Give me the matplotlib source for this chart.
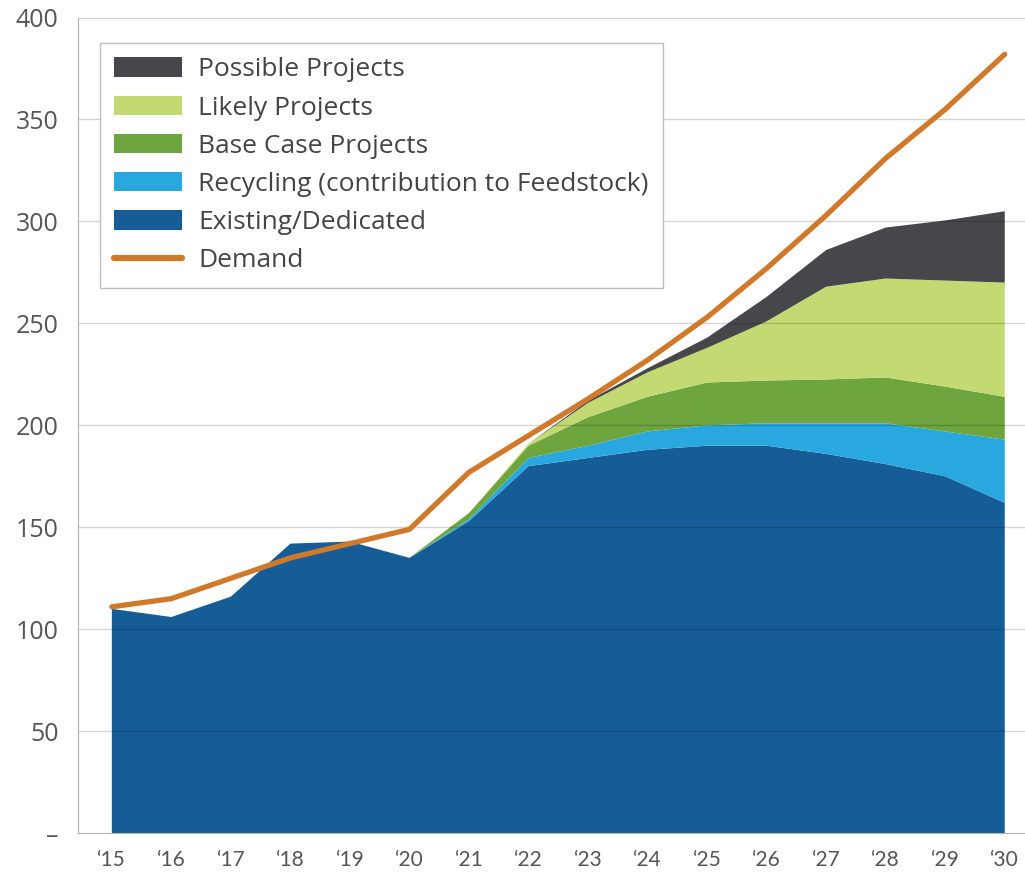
import matplotlib.pyplot as plt
import numpy as np
from matplotlib.patches import Patch
from matplotlib.lines import Line2D

plt.rcParams['font.family'] = ['Lato', 'DejaVu Sans']

years = np.arange(15, 31)
year_labels = ['\u2018%d' % y for y in years]

existing = [110, 106, 116, 142, 143, 135, 153, 180, 184, 188, 190, 190, 186, 181, 175, 162]
recycling = [0, 0, 0, 0, 0, 0, 1, 4, 6, 9, 10, 11, 15, 20, 22, 31]
base_case = [0, 0, 0, 0, 0, 0, 3, 6, 14, 17, 21, 21, 21.5, 22.5, 22, 21]
likely = [0, 0, 0, 0, 0, 0, 0, 1, 7, 12, 17, 29, 45.5, 48.5, 52, 56]
possible = [0, 0, 0, 0, 0, 0, 0, 0, 1, 2, 5, 12, 18, 25, 29.5, 35]
demand = [111, 115, 125, 135, 142, 149, 177, 195, 213, 232, 253, 277, 303, 331, 355, 382]

names = ['Existing/Dedicated', 'Recycling (contribution to Feedstock)',
         'Base Case Projects', 'Likely Projects', 'Possible Projects']
colors = ['#165d98', '#29a7df', '#6ea53e', '#c3da72', '#47474b']
demand_color = '#d1792b'

fig = plt.figure(figsize=(10.25, 8.77), dpi=100)
ax = fig.add_axes([0.076, 0.05, 0.924, 0.93])

ax.stackplot(years, existing, recycling, base_case, likely, possible,
             colors=colors, linewidth=0, zorder=2)
# grid sits over the areas, faintly visible through them
for v in range(50, 401, 50):
    ax.axhline(v, color='black', alpha=0.17, linewidth=1, zorder=2.5)
ax.plot(years, demand, color=demand_color, linewidth=3.8, solid_capstyle='round', zorder=3)

ax.set_xlim(14.43, 30.34)
ax.set_ylim(0, 400)
ax.set_yticks(np.arange(0, 401, 50))
ax.set_yticklabels(['\u2013'] + [str(v) for v in range(50, 401, 50)],
                   fontfamily='Open Sans', fontsize=18)
ax.set_xticks(years)
ax.set_xticklabels(year_labels, fontsize=15)
for s in ['top', 'right']:
    ax.spines[s].set_visible(False)
ax.spines['left'].set_color('#b0b0b0')
ax.spines['bottom'].set_color('#b0b0b0')
ax.tick_params(axis='both', colors='#555555', length=0)
ax.tick_params(axis='x', pad=12)
ax.tick_params(axis='y', pad=14)

handles = [Patch(facecolor=colors[i], edgecolor='none') for i in range(4, -1, -1)]
handles.append(Line2D([0], [0], color=demand_color, linewidth=4.5, solid_capstyle='round'))
labels = [names[i] for i in range(4, -1, -1)] + ['Demand']
leg = ax.legend(handles, labels, loc='upper left', bbox_to_anchor=(0.023, 0.969),
                borderaxespad=0, prop={'family': 'Open Sans', 'size': 19},
                frameon=True, fancybox=False, handlelength=2.58,
                handleheight=0.76, labelspacing=0.5, borderpad=0.55, handletextpad=0.6,
                labelcolor='#444444')
leg.get_frame().set_edgecolor('#bdbdbd')
leg.get_frame().set_linewidth(1)
leg.get_frame().set_alpha(1)

fig.savefig('out.png', dpi=100)
